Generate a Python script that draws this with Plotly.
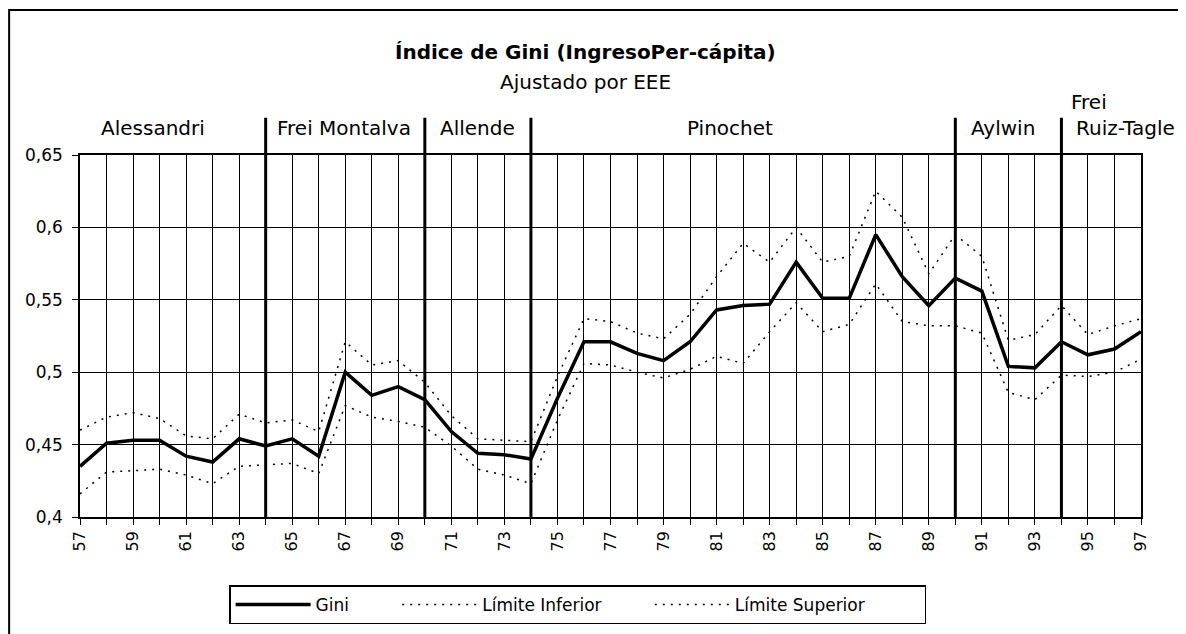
import plotly.graph_objects as go

years = list(range(57, 98))
gini = [0.435, 0.451, 0.453, 0.453, 0.442, 0.438, 0.454, 0.449, 0.454, 0.442,
        0.500, 0.484, 0.490, 0.481, 0.459, 0.444, 0.443, 0.440, 0.482, 0.521,
        0.521, 0.513, 0.508, 0.521, 0.543, 0.546, 0.547, 0.576, 0.551, 0.551,
        0.595, 0.566, 0.546, 0.565, 0.556, 0.504, 0.503, 0.521, 0.512, 0.516,
        0.528]
lim_inf = [0.416, 0.431, 0.432, 0.433, 0.429, 0.423, 0.435, 0.436, 0.437, 0.430,
           0.477, 0.469, 0.466, 0.462, 0.449, 0.433, 0.429, 0.423, 0.467, 0.506,
           0.505, 0.500, 0.496, 0.502, 0.511, 0.506, 0.528, 0.548, 0.528, 0.533,
           0.561, 0.535, 0.532, 0.532, 0.527, 0.486, 0.481, 0.498, 0.497, 0.500,
           0.509]
lim_sup = [0.460, 0.469, 0.472, 0.468, 0.456, 0.454, 0.471, 0.465, 0.467, 0.459,
           0.521, 0.505, 0.508, 0.493, 0.470, 0.454, 0.453, 0.452, 0.497, 0.537,
           0.535, 0.527, 0.523, 0.540, 0.566, 0.589, 0.576, 0.600, 0.576, 0.580,
           0.625, 0.607, 0.568, 0.595, 0.580, 0.522, 0.526, 0.546, 0.526, 0.532,
           0.537]

y_ticks = [0.4, 0.45, 0.5, 0.55, 0.6, 0.65]
y_ticktext = ["0,4", "0,45", "0,5", "0,55", "0,6", "0,65"]
x_ticktext = [str(y) if (y - 57) % 2 == 0 else "" for y in years]

president_breaks = [64, 70, 74, 90, 94]
president_labels = [("Alessandri", 59.75), ("Frei Montalva", 66.95),
                    ("Allende", 72.0), ("Pinochet", 81.5),
                    ("Aylwin", 91.8), ("Ruiz-Tagle", 96.4)]

FONT = "DejaVu Sans, Arial, sans-serif"
NB = "\u00a0"

fig = go.Figure()
fig.add_trace(go.Scatter(x=years, y=gini, mode="lines", name="Gini" + NB * 8,
                         line=dict(color="black", width=3.5)))
fig.add_trace(go.Scatter(x=years, y=lim_inf, mode="lines",
                         name="Límite Inferior" + NB * 8,
                         line=dict(color="black", width=1.5, dash="2px,6px")))
fig.add_trace(go.Scatter(x=years, y=lim_sup, mode="lines",
                         name="Límite Superior" + NB * 10,
                         line=dict(color="black", width=1.5, dash="2px,6px")))

for b in president_breaks:
    fig.add_shape(type="line", xref="x", yref="paper", x0=b, x1=b, y0=0, y1=1.103,
                  line=dict(color="black", width=3), layer="below")

for text, xpos in president_labels:
    fig.add_annotation(x=xpos, y=1.075, xref="x", yref="paper", text=text,
                       showarrow=False, font=dict(family=FONT, size=20, color="black"),
                       xanchor="center", yanchor="middle")
fig.add_annotation(x=94.3, y=1.146, xref="x", yref="paper", text="Frei",
                   showarrow=False, font=dict(family=FONT, size=20, color="black"),
                   xanchor="left", yanchor="middle")

fig.add_annotation(x=0.476, y=1.2845, xref="paper", yref="paper",
                   text="<b>Índice de Gini (IngresoPer-cápita)</b>",
                   showarrow=False, font=dict(family=FONT, size=20, color="black"),
                   xanchor="center", yanchor="middle")
fig.add_annotation(x=0.476, y=1.2017, xref="paper", yref="paper",
                   text="Ajustado por EEE",
                   showarrow=False, font=dict(family=FONT, size=20, color="black"),
                   xanchor="center", yanchor="middle")

# outer frame
fig.add_shape(type="rect", xref="paper", yref="paper", x0=-0.0668, x1=1.06,
              y0=-0.38, y1=1.4006, line=dict(color="black", width=2))

fig.update_layout(
    width=1186, height=634,
    margin=dict(l=72, r=53, t=147, b=125),
    paper_bgcolor="white", plot_bgcolor="white",
    font=dict(family=FONT, size=16, color="black"),
    showlegend=True,
    legend=dict(orientation="h", x=0.469, y=-0.243, xanchor="center", yanchor="middle",
                bordercolor="black", borderwidth=1.5, bgcolor="white",
                font=dict(family=FONT, size=17, color="black"),
                itemwidth=75),
    xaxis=dict(range=[57, 97], tickmode="array", tickvals=years, ticktext=x_ticktext,
               tickangle=-90, showgrid=True, gridcolor="black", gridwidth=1.2,
               showline=True, linecolor="black", linewidth=1.5, mirror=True,
               ticks="outside", ticklen=6, tickcolor="black",
               tickfont=dict(family=FONT, size=16, color="black"), zeroline=False),
    yaxis=dict(range=[0.4, 0.65], tickmode="array", tickvals=y_ticks,
               ticktext=y_ticktext, showgrid=True, gridcolor="black", gridwidth=1.2,
               showline=True, linecolor="black", linewidth=1.5, mirror=True,
               ticks="outside", ticklen=6, tickcolor="black", ticklabelstandoff=6,
               tickfont=dict(family=FONT, size=17, color="black"), zeroline=False),
)

fig.write_html("out.html")
